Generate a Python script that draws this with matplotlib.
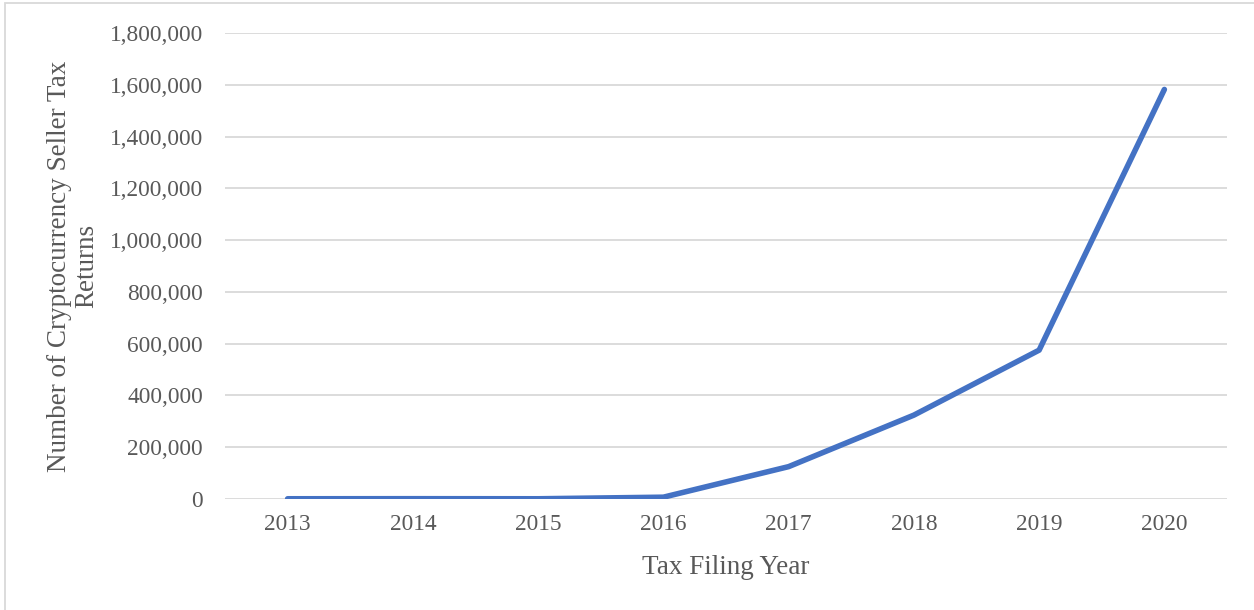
import matplotlib
matplotlib.use("Agg")
import matplotlib.pyplot as plt
from matplotlib.patches import Rectangle
from matplotlib.ticker import FuncFormatter, MultipleLocator

years = ["2013", "2014", "2015", "2016", "2017", "2018", "2019", "2020"]
returns = [900, 1200, 900, 7000, 125000, 324000, 575000, 1582000]

plt.rcParams["font.family"] = ["Liberation Serif", "DejaVu Serif"]
text_color = "#595959"
grid_color = "#D9D9D9"
line_color = "#4472C4"

fig = plt.figure(figsize=(12.54, 6.10), dpi=100)
ax = fig.add_axes([225 / 1254, 1 - 499 / 610, (1227 - 225) / 1254, (499 - 33) / 610])

x = list(range(len(years)))
ax.plot(x, returns, color=line_color, linewidth=4.0, solid_capstyle="round",
        solid_joinstyle="round", zorder=3)

ax.set_xlim(-0.5, len(years) - 0.5)
ax.set_ylim(0, 1800000)
ax.yaxis.set_major_locator(MultipleLocator(200000))
ax.yaxis.set_major_formatter(FuncFormatter(lambda v, p: f"{int(v):,}"))
ax.set_xticks(x)
ax.set_xticklabels(years)

ax.grid(axis="y", color=grid_color, linewidth=1.3, zorder=0)
for s in ax.spines.values():
    s.set_visible(False)
ax.tick_params(axis="both", length=0, labelsize=16.8, labelcolor=text_color)
ax.tick_params(axis="y", pad=16)
ax.tick_params(axis="x", pad=11)

ax.set_xlabel("Tax Filing Year", fontsize=19.5, color=text_color, labelpad=14)
ax.set_ylabel("Number of Cryptocurrency Seller Tax\nReturns", fontsize=19.5,
              color=text_color, linespacing=1.1, va="center")
ax.yaxis.set_label_coords((73 - 225) / 1002, 0.5)

# light frame around the chart area
fig.patches.append(Rectangle((5 / 1254, -0.05), 1.2, (607 / 610) + 0.05,
                             transform=fig.transFigure, fill=False,
                             edgecolor="#D9D9D9", linewidth=1.3))

fig.savefig("out.png", dpi=100)
